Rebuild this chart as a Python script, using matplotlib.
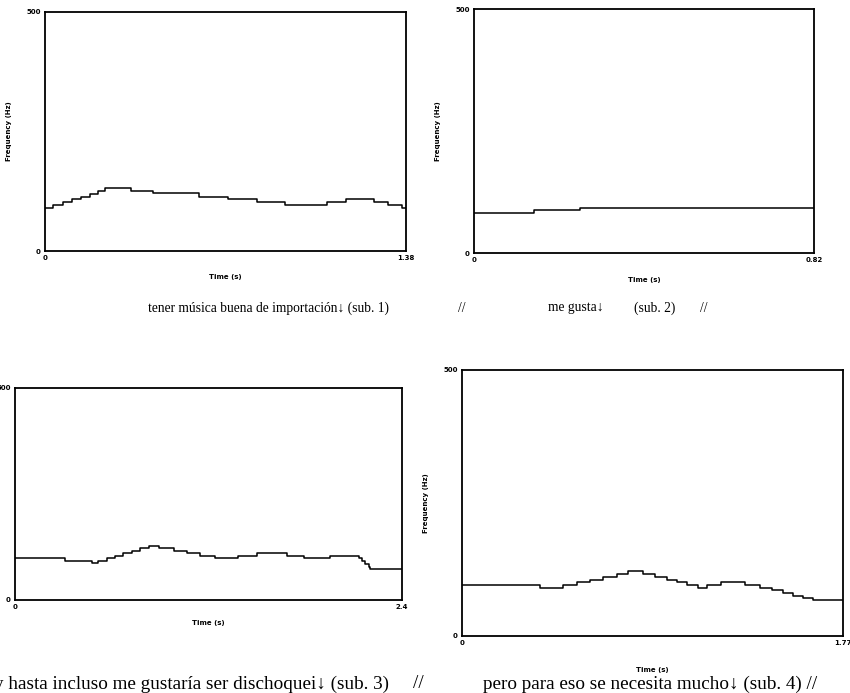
import numpy as np
import matplotlib
matplotlib.use("Agg")
import matplotlib.pyplot as plt

# pitch tracks: step start times (s) and F0 values (Hz), last time = end of utterance
t_sub1 = [0, 0.032, 0.068, 0.102, 0.138, 0.172, 0.204, 0.229, 0.26, 0.329, 0.414,
          0.589, 0.698, 0.809, 0.917, 1.079, 1.15, 1.259, 1.31, 1.363, 1.38]
f_sub1 = [91, 96, 102, 108, 114, 120, 126, 132, 131, 126, 121,
          114, 109, 103, 97, 103, 109, 103, 97, 91, 91]

t_sub2 = [0, 0.145, 0.255, 0.82]
f_sub2 = [82, 88, 93, 93]

t_sub3 = [0, 0.310, 0.476, 0.517, 0.569, 0.621, 0.672, 0.724, 0.776, 0.828, 0.890,
          0.983, 1.066, 1.148, 1.241, 1.386, 1.5, 1.686, 1.79, 1.955, 2.131,
          2.152, 2.172, 2.193, 2.203, 2.4]
f_sub3 = [98, 92, 87, 92, 98, 104, 110, 116, 122, 128, 122,
          116, 110, 104, 98, 104, 110, 104, 98, 104, 98,
          91, 84, 78, 73, 73]

t_sub4 = [0, 0.363, 0.471, 0.533, 0.595, 0.654, 0.719, 0.773, 0.842, 0.897, 0.951,
          0.997, 1.043, 1.098, 1.139, 1.201, 1.314, 1.384, 1.438, 1.492, 1.538,
          1.585, 1.631, 1.77]
f_sub4 = [96, 91, 96, 101, 106, 111, 116, 122, 116, 111, 106,
          101, 96, 91, 96, 101, 96, 91, 86, 81, 76,
          71, 67, 67]

end_labels = ["1.38", "0.82", "2.4", "1.77"]
f_max = 500

captions_top = [("tener música buena de importación\u2193 (sub. 1)", 148),
                ("//", 458), ("me gusta\u2193", 548), ("(sub. 2)", 634), ("//", 700)]

W, H = 850, 693
fig = plt.figure(figsize=(W / 100, H / 100), dpi=100)
fig.patch.set_facecolor("white")

# axes boxes in pixels: left, right, top, bottom
boxes = [(45, 406, 12, 251), (474, 814, 9, 253), (15, 402, 388, 600), (462, 843, 370, 636)]
tracks = [(t_sub1, f_sub1), (t_sub2, f_sub2), (t_sub3, f_sub3), (t_sub4, f_sub4)]
xpads = [9, 10, 7, 15]
show_ylabel = [True, True, False, True]   # panel 3's label falls outside the page

for (l, r, tp, b), (tt, ff), lab, pad, yl in zip(boxes, tracks, end_labels, xpads, show_ylabel):
    ax = fig.add_axes([l / W, 1 - b / H, (r - l) / W, (b - tp) / H])
    ax.step(tt, ff, where="post", color="black", lw=1.1)
    ax.set_xlim(0, tt[-1])
    ax.set_ylim(0, f_max)
    for s in ax.spines.values():
        s.set_linewidth(1.3)
    ax.set_xticks([0, tt[-1]])
    ax.set_xticklabels(["0", lab])
    ax.set_yticks([0, f_max])
    ax.set_yticklabels(["0", str(f_max)])
    ax.tick_params(length=0, labelsize=5, pad=3)
    for tl in ax.get_xticklabels() + ax.get_yticklabels():
        tl.set_fontweight("bold")
    ax.set_xlabel("Time (s)", fontsize=5, fontweight="bold", labelpad=pad)
    if yl:
        ax.set_ylabel("Frequency (Hz)", fontsize=5, fontweight="bold", labelpad=10)

serif = ["Liberation Serif", "DejaVu Serif"]
for txt, x in captions_top:
    fig.text(x / W, 1 - 308 / H, txt, fontsize=9.75, family=serif, va="center", ha="left")

fig.text(389 / W, 1 - 684 / H, "y hasta incluso me gustaría ser dischoquei\u2193 (sub. 3)",
         fontsize=13.8, family=serif, va="center", ha="right")
fig.text(413 / W, 1 - 684 / H, "//", fontsize=13.8, family=serif, va="center", ha="left")
fig.text(483 / W, 1 - 684 / H, "pero para eso se necesita mucho\u2193 (sub. 4) //",
         fontsize=13.8, family=serif, va="center", ha="left",
         bbox=dict(facecolor="white", edgecolor="none", pad=1))

fig.savefig("out.png", dpi=100, facecolor="white")
